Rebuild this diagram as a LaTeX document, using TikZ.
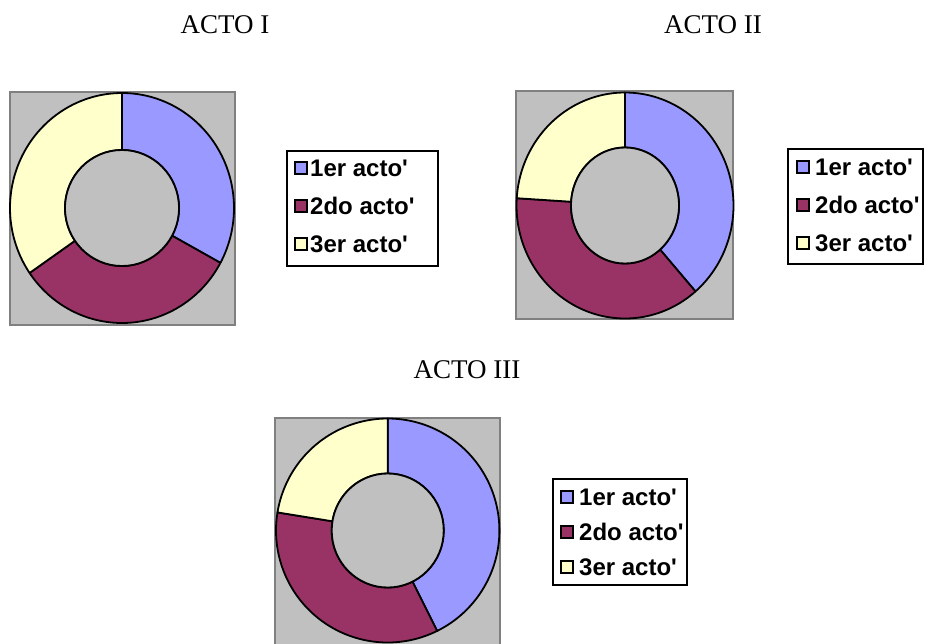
\documentclass[tikz,border=0pt]{standalone}
\usepackage{fontspec}
\setmainfont{Liberation Serif}
\newfontfamily\legfont{Liberation Sans}[Ligatures=TeXOff]
\definecolor{cblue}{HTML}{9999FF}
\definecolor{cpurple}{HTML}{993366}
\definecolor{cyellow}{HTML}{FFFFCC}
\definecolor{cgrey}{HTML}{C0C0C0}
\definecolor{cframe}{HTML}{808080}
% #1 cx, #2 cy, #3 rx, #4 ry, #5 inner rx, #6 inner ry, #7 start, #8 end, #9 colour
\newcommand{\ringslice}[9]{%
  \filldraw[ringline, fill=#9]
    plot[domain=#7:#8, samples=80] ({#1+#3*cos(\x)},{#2-#4*sin(\x)})
    -- plot[domain=#7:#8, samples=60] ({#1+#5*cos(#7+#8-\x)},{#2-#6*sin(#7+#8-\x)})
    -- cycle;}
\begin{document}
\begin{tikzpicture}[x=1pt,y=-1pt,
  ringline/.style={draw=black, line width=1.8pt, line join=round},
  plotbg/.style={draw=cframe, fill=cgrey, line width=1.8pt},
  titletext/.style={font=\fontsize{27}{27}\selectfont, anchor=base, inner sep=0pt},
  legbox/.style={draw=black, line width=2pt, fill=white, anchor=north west, inner sep=0pt},
  legsq/.style={draw=black, line width=1.5pt, minimum size=12pt, inner sep=0pt},
  legtext/.style={font=\legfont\bfseries\fontsize{24}{24}\selectfont, anchor=base west, inner sep=0pt}]
\useasboundingbox (0,0) rectangle (925,643);
\clip (0,0) rectangle (925,643);

% ---------- titles ----------
\node[titletext] (t1) at (225,33) {ACTO I};
\node[titletext] (t2) at (713,33) {ACTO II};
\node[titletext] (t3) at (467,378) {ACTO III};

% ---------- chart 1 ----------
\draw[plotbg] (10,92) rectangle (235,325);
\ringslice{122}{208}{112}{115}{57}{58}{-28.5}{90}{cblue}
\ringslice{122}{208}{112}{115}{57}{58}{-145.6}{-28.5}{cpurple}
\ringslice{122}{208}{112}{115}{57}{58}{90}{214.4}{cyellow}
\filldraw[ringline, fill=cgrey] (122,208) ellipse [x radius=57, y radius=58];

\node[legbox, minimum width=151, minimum height=115] (leg1) at (286,150) {};
\node[legsq, fill=cblue]   (l1a) at (301,168) {};
\node[legsq, fill=cpurple] (l1b) at (301,206) {};
\node[legsq, fill=cyellow] (l1c) at (301,244) {};
\node[legtext] (l1at) at (310,176) {1er acto'};
\node[legtext] (l1bt) at (310,214) {2do acto'};
\node[legtext] (l1ct) at (310,252) {3er acto'};

% ---------- chart 2 ----------
\draw[plotbg] (516,91) rectangle (733,319);
\ringslice{625}{205.5}{108.5}{113}{54}{58}{-49.5}{90}{cblue}
\ringslice{625}{205.5}{108.5}{113}{54}{58}{-183.7}{-49.5}{cpurple}
\ringslice{625}{205.5}{108.5}{113}{54}{58}{90}{176.3}{cyellow}
\filldraw[ringline, fill=cgrey] (625,205.5) ellipse [x radius=54, y radius=58];

\node[legbox, minimum width=135, minimum height=115] (leg2) at (787,148) {};
\node[legsq, fill=cblue]   (l2a) at (803,167) {};
\node[legsq, fill=cpurple] (l2b) at (803,205) {};
\node[legsq, fill=cyellow] (l2c) at (803,243) {};
\node[legtext] (l2at) at (815,175) {1er acto'};
\node[legtext] (l2bt) at (815,213) {2do acto'};
\node[legtext] (l2ct) at (815,251) {3er acto'};

% ---------- chart 3 ----------
\draw[plotbg] (275,418) rectangle (500,660);
\ringslice{387.7}{530.5}{111.7}{112}{56}{57}{-63.7}{90}{cblue}
\ringslice{387.7}{530.5}{111.7}{112}{56}{57}{-189.3}{-63.7}{cpurple}
\ringslice{387.7}{530.5}{111.7}{112}{56}{57}{90}{170.7}{cyellow}
\filldraw[ringline, fill=cgrey] (387.7,530.5) ellipse [x radius=56, y radius=57];

\node[legbox, minimum width=134, minimum height=106] (leg3) at (552,478) {};
\node[legsq, fill=cblue]   (l3a) at (567,497) {};
\node[legsq, fill=cpurple] (l3b) at (567,532) {};
\node[legsq, fill=cyellow] (l3c) at (567,567) {};
\node[legtext] (l3at) at (579,505) {1er acto'};
\node[legtext] (l3bt) at (579,540) {2do acto'};
\node[legtext] (l3ct) at (579,575) {3er acto'};
\end{tikzpicture}
\end{document}
